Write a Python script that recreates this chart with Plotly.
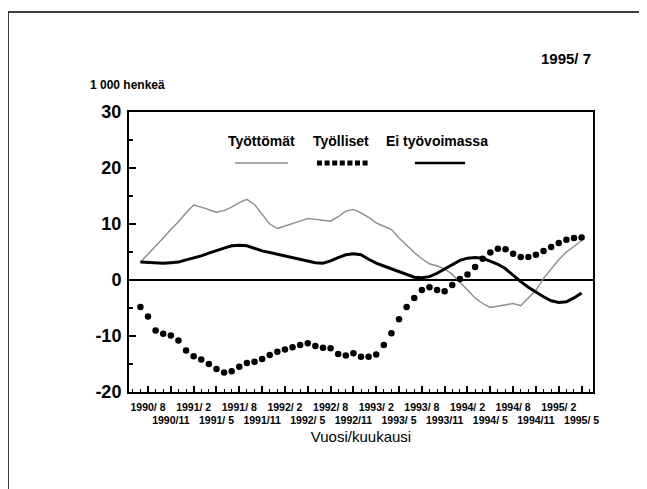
import plotly.graph_objects as go

# month index: months since 1990/1 (0 = 1990/1); data from 1990/7 to 1995/5
months = list(range(6, 65))

tyottomat = [3.2, 4.6, 6.0, 7.5, 9.0, 10.4, 12.0, 13.4, 13.0, 12.5,
             12.1, 12.4, 13.0, 13.8, 14.4, 13.5, 11.8, 10.0, 9.2, 9.6,
             10.0, 10.5, 11.0, 10.8, 10.6, 10.5, 11.3, 12.3, 12.6, 12.0,
             11.2, 10.2, 9.6, 9.0, 7.5, 6.2, 4.9, 3.8, 2.9, 2.5,
             2.0, 1.0, -0.5, -1.8, -3.2, -4.2, -4.9, -4.7, -4.4, -4.2,
             -4.6, -3.2, -1.8, 0.3, 2.0, 3.6, 5.0, 6.0, 7.0]

tyolliset = [-4.8, -6.5, -9.0, -9.6, -9.9, -10.8, -12.6, -13.6, -14.2, -15.0,
             -15.9, -16.5, -16.3, -15.5, -14.8, -14.6, -14.1, -13.4, -12.8, -12.4,
             -12.0, -11.6, -11.3, -11.8, -12.1, -12.2, -13.2, -13.5, -13.1, -13.7,
             -13.7, -13.3, -11.6, -9.5, -7.0, -4.8, -3.2, -1.8, -1.3, -1.8,
             -2.0, -0.9, 0.2, 1.0, 2.3, 3.8, 4.9, 5.6, 5.5, 4.7,
             4.1, 4.1, 4.5, 5.2, 5.9, 6.6, 7.2, 7.5, 7.6]

ei_tyovoimassa = [3.2, 3.1, 3.0, 3.0, 3.1, 3.2, 3.6, 3.9, 4.3, 4.8,
                  5.3, 5.7, 6.1, 6.2, 6.1, 5.6, 5.2, 4.9, 4.6, 4.3,
                  4.1, 3.8, 3.4, 3.1, 3.0, 3.4, 4.0, 4.5, 4.7, 4.5,
                  3.7, 3.0, 2.5, 2.0, 1.4, 0.9, 0.5, 0.4, 0.6, 1.2,
                  2.0, 2.8, 3.5, 3.9, 4.0, 3.9, 3.4, 2.8, 2.0, 0.8,
                  -0.3, -1.3, -2.2, -3.0, -3.7, -4.0, -3.9, -3.2, -2.3]

tick_months = list(range(7, 65, 3))
tick_labels = ["1990/ 8", "1990/11", "1991/ 2", "1991/ 5", "1991/ 8", "1991/11",
               "1992/ 2", "1992/ 5", "1992/ 8", "1992/11", "1993/ 2", "1993/ 5",
               "1993/ 8", "1993/11", "1994/ 2", "1994/ 5", "1994/ 8", "1994/11",
               "1995/ 2", "1995/ 5"]
tick_text = [t if i % 2 == 0 else "<br>" + t for i, t in enumerate(tick_labels)]

y_tick_vals = [-20, -10, 0, 10, 20, 30]
y_tick_text = ["-20", "-10", "0", "10", "20", "30"]

series_names = ["Työttömät", "Työlliset", "Ei työvoimassa"]

FONT = "Liberation Sans, Arial, sans-serif"

fig = go.Figure()
fig.add_trace(go.Scatter(x=months, y=tyottomat, mode="lines", name=series_names[0],
                         line=dict(color="#8c8c8c", width=1.4)))
fig.add_trace(go.Scatter(x=months, y=tyolliset, mode="markers", name=series_names[1],
                         marker=dict(color="black", size=6.5, line=dict(width=0))))
fig.add_trace(go.Scatter(x=months, y=ei_tyovoimassa, mode="lines", name=series_names[2],
                         line=dict(color="black", width=3)))

# the page body has an 8px margin, so the figure is shifted by (8, 8)
fig.update_layout(
    width=639, height=481,
    margin=dict(l=121, r=54, t=104, b=97),
    paper_bgcolor="white", plot_bgcolor="white",
    showlegend=False,
    font=dict(family=FONT, color="black"),
)

fig.update_xaxes(
    range=[4.5, 65.5], tickmode="array", tickvals=tick_months, ticktext=tick_text,
    tickangle=0,
    ticks="inside", ticklen=6, tickwidth=1.5, tickcolor="black",
    minor=dict(tickmode="linear", tick0=0, dtick=1, ticks="inside", ticklen=3,
               tickwidth=1, tickcolor="black"),
    showline=True, linecolor="black", linewidth=2, mirror=True,
    showgrid=False, zeroline=False,
    tickfont=dict(size=10.5, family=FONT, weight="bold"),
    ticklabelstandoff=4,
    title=dict(text="Vuosi/kuukausi", font=dict(size=15, family=FONT), standoff=6),
)
fig.update_yaxes(
    range=[-20, 30], tickmode="array", tickvals=y_tick_vals, ticktext=y_tick_text,
    ticks="inside", ticklen=7, tickwidth=2, tickcolor="black",
    minor=dict(tickmode="linear", tick0=0, dtick=5, ticks="inside", ticklen=4,
               tickwidth=1.5, tickcolor="black"),
    showline=True, linecolor="black", linewidth=2, mirror=True,
    showgrid=False,
    zeroline=True, zerolinecolor="black", zerolinewidth=2,
    tickfont=dict(size=18, family=FONT, weight="bold"),
    ticklabelstandoff=2,
)

# plot area geometry (page pixels) for paper-referenced decorations
L, R, T, B = 129, 593, 112, 392
def px(x):
    return (x - L) / (R - L)
def py(y):
    return (B - y) / (B - T)

# outer frame
fig.add_shape(type="rect", xref="paper", yref="paper",
              x0=px(8), x1=px(640), y0=py(500), y1=py(12),
              line=dict(color="black", width=1.5), layer="below")

# legend texts and samples
leg_x = [261, 341, 437]
sample_x = [(235, 288), (317, 370), (415, 465)]
sample_line = [dict(color="#8c8c8c", width=1.4),
               dict(color="black", width=5, dash="5px,2.6px"),
               dict(color="black", width=2.5)]
for name, cx, (sx0, sx1), ln in zip(series_names, leg_x, sample_x, sample_line):
    fig.add_annotation(xref="paper", yref="paper", x=px(cx), y=py(141),
                       text=f"<b>{name}</b>", showarrow=False,
                       font=dict(size=14, family=FONT), xanchor="center", yanchor="middle")
    fig.add_shape(type="line", xref="paper", yref="paper",
                  x0=px(sx0), x1=px(sx1), y0=py(163), y1=py(163), line=ln)

fig.add_annotation(xref="paper", yref="paper", x=px(88), y=py(85),
                   text="<b>1 000 henkeä</b>", showarrow=False,
                   font=dict(size=12, family=FONT), xanchor="left", yanchor="middle")
fig.add_annotation(xref="paper", yref="paper", x=px(593), y=py(58),
                   text="<b>1995/ 7</b>", showarrow=False,
                   font=dict(size=15, family=FONT), xanchor="right", yanchor="middle")

fig.write_html("out.html")
